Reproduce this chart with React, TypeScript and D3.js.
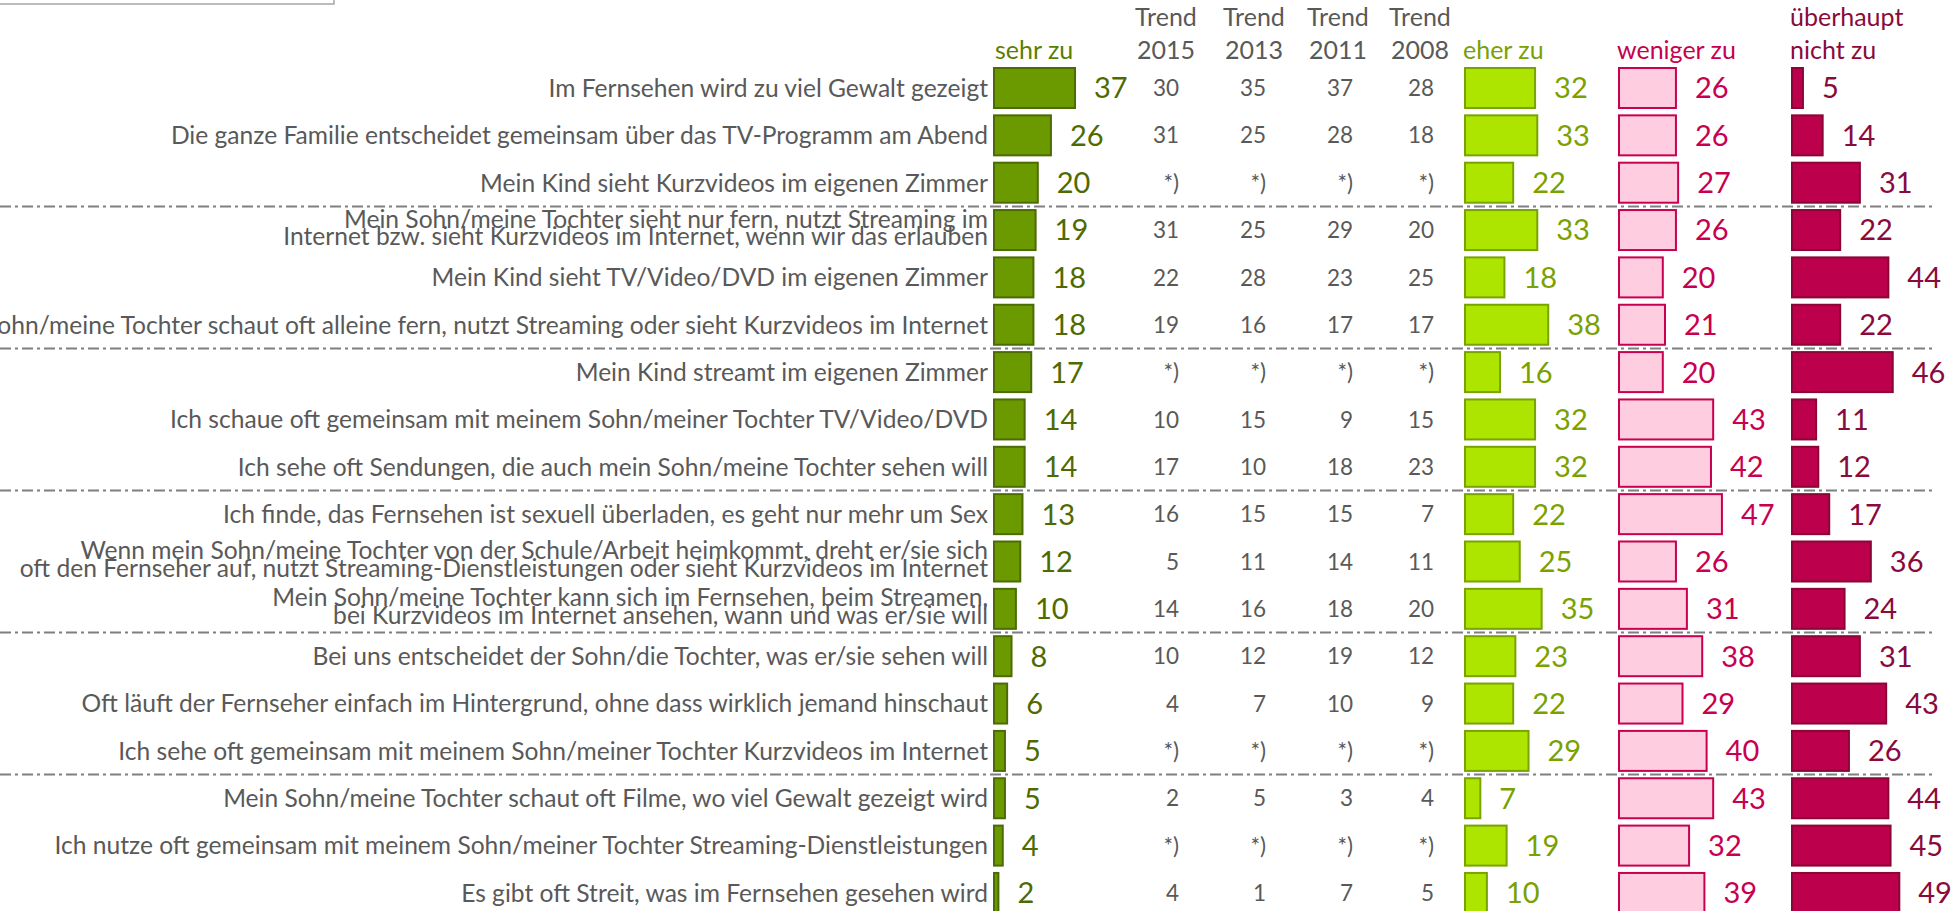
import React from "react";
import * as d3 from "d3";

// Aussagen (zweizeilige mit "|" getrennt)
const statements = [
  "Im Fernsehen wird zu viel Gewalt gezeigt",
  "Die ganze Familie entscheidet gemeinsam über das TV-Programm am Abend",
  "Mein Kind sieht Kurzvideos im eigenen Zimmer",
  "Mein Sohn/meine Tochter sieht nur fern, nutzt Streaming im|Internet bzw. sieht Kurzvideos im Internet, wenn wir das erlauben",
  "Mein Kind sieht TV/Video/DVD im eigenen Zimmer",
  "Mein Sohn/meine Tochter schaut oft alleine fern, nutzt Streaming oder sieht Kurzvideos im Internet",
  "Mein Kind streamt im eigenen Zimmer",
  "Ich schaue oft gemeinsam mit meinem Sohn/meiner Tochter TV/Video/DVD",
  "Ich sehe oft Sendungen, die auch mein Sohn/meine Tochter sehen will",
  "Ich finde, das Fernsehen ist sexuell überladen, es geht nur mehr um Sex",
  "Wenn mein Sohn/meine Tochter von der Schule/Arbeit heimkommt, dreht er/sie sich|oft den Fernseher auf, nutzt Streaming-Dienstleistungen oder sieht Kurzvideos im Internet",
  "Mein Sohn/meine Tochter kann sich im Fernsehen, beim Streamen,|bei Kurzvideos im Internet ansehen, wann und was er/sie will",
  "Bei uns entscheidet der Sohn/die Tochter, was er/sie sehen will",
  "Oft läuft der Fernseher einfach im Hintergrund, ohne dass wirklich jemand hinschaut",
  "Ich sehe oft gemeinsam mit meinem Sohn/meiner Tochter Kurzvideos im Internet",
  "Mein Sohn/meine Tochter schaut oft Filme, wo viel Gewalt gezeigt wird",
  "Ich nutze oft gemeinsam mit meinem Sohn/meiner Tochter Streaming-Dienstleistungen",
  "Es gibt oft Streit, was im Fernsehen gesehen wird",
];

const sehrZu = [37, 26, 20, 19, 18, 18, 17, 14, 14, 13, 12, 10, 8, 6, 5, 5, 4, 2];
const eherZu = [32, 33, 22, 33, 18, 38, 16, 32, 32, 22, 25, 35, 23, 22, 29, 7, 19, 10];
const wenigerZu = [26, 26, 27, 26, 20, 21, 20, 43, 42, 47, 26, 31, 38, 29, 40, 43, 32, 39];
const nichtZu = [5, 14, 31, 22, 44, 22, 46, 11, 12, 17, 36, 24, 31, 43, 26, 44, 45, 49];

// null = *) (nicht abgefragt)
const trendYears = ["2015", "2013", "2011", "2008"];
const trend2015 = [30, 31, null, 31, 22, 19, null, 10, 17, 16, 5, 14, 10, 4, null, 2, null, 4];
const trend2013 = [35, 25, null, 25, 28, 16, null, 15, 10, 15, 11, 16, 12, 7, null, 5, null, 1];
const trend2011 = [37, 28, null, 29, 23, 17, null, 9, 18, 15, 14, 18, 19, 10, null, 3, null, 7];
const trend2008 = [28, 18, null, 20, 25, 17, null, 15, 23, 7, 11, 20, 12, 9, null, 4, null, 5];

// Trennlinien nach diesen Zeilen
const separatorsAfter = [2, 5, 8, 11, 14];

const W = 1953;
const H = 911;
const FONT = "Lato, 'Open Sans', sans-serif";
const GREY = "#595959";

const y = d3
  .scalePoint<number>()
  .domain(d3.range(statements.length))
  .range([88, 88 + 17 * 47.35]);
const x = d3.scaleLinear().domain([0, 100]).range([0, 219]);
const barH = 40;

const barCols = [
  { key: "sehr", data: sehrZu, x0: 993, headX: 995, fill: "#6b9a00", stroke: "#4d6b05", text: "#4f6a00", head: ["", "sehr zu"], headColor: "#5b7f00" },
  { key: "eher", data: eherZu, x0: 1464, headX: 1463, fill: "#ade400", stroke: "#79a300", text: "#7aa100", head: ["", "eher zu"], headColor: "#7aa100" },
  { key: "weniger", data: wenigerZu, x0: 1618, headX: 1617, fill: "#ffcde0", stroke: "#c8004f", text: "#c8004f", head: ["", "weniger zu"], headColor: "#c8004f" },
  { key: "nicht", data: nichtZu, x0: 1791, headX: 1790, fill: "#bd004b", stroke: "#8a0636", text: "#8a0a3c", head: ["überhaupt", "nicht zu"], headColor: "#8a0a3c" },
];

const trendCols = [
  { data: trend2015, right: 1179, center: 1166 },
  { data: trend2013, right: 1266, center: 1254 },
  { data: trend2011, right: 1353, center: 1338 },
  { data: trend2008, right: 1434, center: 1420 },
];

const LABEL_FS = 24.6;
const LABEL2_FS = 24.6;
const VALUE_FS = 29;
const TREND_FS = 22.5;
const HEAD_FS = 25;
const cap = (fs: number) => fs * 0.36; // halbe Versalhöhe (Lato)

export default function App() {
  return (
    <div style={{ position: "absolute", left: 0, top: 0 }}>
      <svg width={W} height={H} style={{ display: "block", background: "#fff" }} fontFamily={FONT}>
        {/* abgeschnittener Rahmen oben links */}
        <rect x={-4} y={-20} width={338} height={24} fill="#fff" stroke="#a6a6a6" strokeWidth={1.5} />

        {/* Trennlinien */}
        {separatorsAfter.map((i) => {
          const yy = ((y(i) as number) + (y(i + 1) as number)) / 2;
          return (
            <line key={i} x1={0} x2={1933} y1={yy} y2={yy} stroke="#7f7f7f" strokeWidth={2} strokeDasharray="11 4 3 4" />
          );
        })}

        {/* Kopfzeilen */}
        {trendCols.map((t, j) => (
          <g key={j} fill={GREY} fontSize={HEAD_FS} textAnchor="middle">
            <text x={t.center} y={26}>Trend</text>
            <text x={t.center} y={58.5}>{trendYears[j]}</text>
          </g>
        ))}
        {barCols.map((c) => (
          <g key={c.key} fill={c.headColor} fontSize={HEAD_FS}>
            {c.head[0] && <text x={c.headX} y={26}>{c.head[0]}</text>}
            <text x={c.headX} y={59}>{c.head[1]}</text>
          </g>
        ))}

        {/* Aussagen */}
        {statements.map((s, i) => {
          const cy = y(i) as number;
          const lines = s.split("|");
          if (lines.length === 1) {
            return (
              <text key={i} x={988} y={cy + cap(LABEL_FS)} fill={GREY} fontSize={LABEL_FS} textAnchor="end">
                {s}
              </text>
            );
          }
          return (
            <text key={i} x={988} fill={GREY} fontSize={LABEL2_FS} textAnchor="end">
              <tspan x={988} y={cy - 2.5}>{lines[0]}</tspan>
              <tspan x={988} y={cy + 15}>{lines[1]}</tspan>
            </text>
          );
        })}

        {/* Balken + Werte */}
        {barCols.map((c) => (
          <g key={c.key}>
            {c.data.map((v, i) => {
              const cy = y(i) as number;
              return (
                <g key={i}>
                  <rect
                    x={c.x0 + 1}
                    y={cy - barH / 2}
                    width={x(v)}
                    height={barH}
                    fill={c.fill}
                    stroke={c.stroke}
                    strokeWidth={2}
                  />
                  <text x={c.x0 + x(v) + 20} y={cy + cap(VALUE_FS)} fill={c.text} fontSize={VALUE_FS}>
                    {v}
                  </text>
                </g>
              );
            })}
          </g>
        ))}

        {/* Trendwerte */}
        {trendCols.map((t, j) => (
          <g key={j} fill={GREY} fontSize={TREND_FS} textAnchor="end">
            {t.data.map((v, i) => (
              <text key={i} x={t.right} y={(y(i) as number) + cap(TREND_FS)}>
                {v === null ? "*)" : v}
              </text>
            ))}
          </g>
        ))}
      </svg>
    </div>
  );
}
